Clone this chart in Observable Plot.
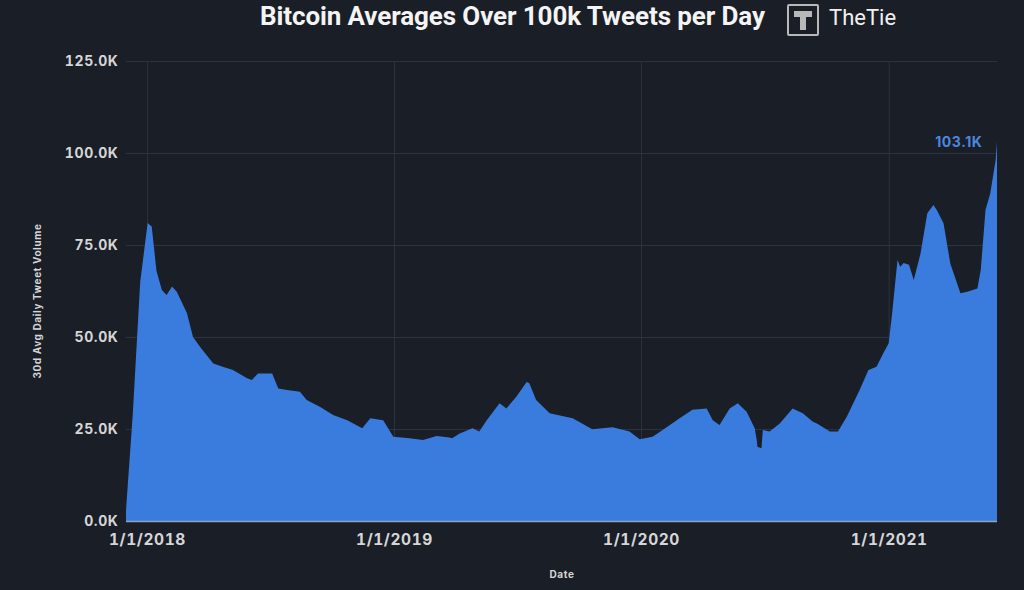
<!DOCTYPE html>
<html>
<head>
<meta charset="utf-8">
<script src="https://cdn.jsdelivr.net/npm/d3@7"></script>
<script src="https://cdn.jsdelivr.net/npm/@observablehq/plot@0.6"></script>
<style>
  html, body { margin: 0; padding: 0; background: #1a1e27; }
  #wrap { position: relative; width: 1024px; height: 590px; overflow: hidden; background: #1a1e27; }
  #head { position: relative; height: 40px; }
  #title { position: absolute; left: 260px; top: 1px; font-family: Roboto, sans-serif; font-weight: 700; font-size: 26px; color: #f4f4f4; white-space: nowrap; letter-spacing: -0.1px; }
  #logo { position: absolute; left: 787px; top: 4px; width: 28px; height: 28px; border: 2px solid #b8b8b8; border-radius: 2px; }
  #logo .bar { position: absolute; left: 5px; top: 5px; width: 18px; height: 6px; background: #b8b8b8; }
  #logo .stem { position: absolute; left: 11px; top: 11px; width: 6px; height: 13px; background: #b8b8b8; }
  #brand { position: absolute; left: 829px; top: 5px; font-family: Roboto, sans-serif; font-weight: 400; font-size: 22px; color: #f0f0f0; }
  #chart svg text { letter-spacing: 0.6px; }
</style>
</head>
<body>
<div id="wrap">
  <div id="head">
    <div id="title">Bitcoin Averages Over 100k Tweets per Day</div>
    <div id="logo"><div class="bar"></div><div class="stem"></div></div>
    <div id="brand">TheTie</div>
  </div>
  <div id="chart"></div>
</div>
<script>
// 30-day average daily tweet volume (thousands)
const dates = [
  "2017-12-01","2017-12-11","2017-12-22","2018-01-02","2018-01-08","2018-01-15","2018-01-23","2018-01-30",
  "2018-02-07","2018-02-14","2018-03-01","2018-03-10","2018-03-20","2018-04-09","2018-04-23","2018-05-08",
  "2018-05-29","2018-06-05","2018-06-14","2018-07-05","2018-07-14","2018-07-27","2018-08-15","2018-08-25",
  "2018-09-14","2018-10-03","2018-10-24","2018-11-15","2018-11-27","2018-12-16","2018-12-31","2019-01-24",
  "2019-02-13","2019-03-05","2019-03-24","2019-03-28","2019-04-08","2019-04-27","2019-05-07","2019-05-18",
  "2019-06-06","2019-06-16","2019-07-01","2019-07-16","2019-07-20","2019-07-30","2019-08-19","2019-09-22",
  "2019-10-21","2019-11-20","2019-12-15","2019-12-30","2020-01-18","2020-02-02","2020-02-27","2020-03-17",
  "2020-04-07","2020-04-16","2020-04-26","2020-05-11","2020-05-23","2020-06-05","2020-06-17","2020-06-20",
  "2020-06-21","2020-06-27","2020-06-29","2020-07-09","2020-07-24","2020-08-12","2020-08-27","2020-09-11",
  "2020-09-17","2020-10-06","2020-10-18","2020-10-31","2020-11-19","2020-12-02","2020-12-14","2020-12-24",
  "2021-01-01","2021-01-06","2021-01-14","2021-01-18","2021-01-23","2021-01-31","2021-02-07","2021-02-17",
  "2021-02-27","2021-03-08","2021-03-13","2021-03-23","2021-04-02","2021-04-17","2021-04-27","2021-05-12",
  "2021-05-17","2021-05-24","2021-05-31","2021-06-08","2021-06-10"
];
const values = [
  3, 29, 65, 81, 80, 68, 62.8, 61.4,
  63.7, 62.3, 56.5, 50, 47.4, 42.8, 41.9, 41,
  38.8, 38.3, 40.1, 40.1, 36, 35.6, 35.1, 32.9,
  31, 28.8, 27.4, 25.2, 27.9, 27.4, 22.9, 22.5,
  22, 23.1, 22.7, 22.5, 23.8, 25.2, 24.3, 27.4,
  32, 30.6, 33.8, 37.8, 37.4, 32.9, 29.3, 27.9,
  24.9, 25.5, 24.3, 22.2, 22.9, 24.7, 27.9, 30.2,
  30.6, 27.4, 26.1, 30.6, 32, 29.7, 25.2, 22,
  20.2, 19.8, 24.7, 24.3, 26.5, 30.6, 29.3, 27,
  26.5, 24.3, 24.3, 28.3, 35.6, 41, 41.9, 45.6,
  48.3, 56.4, 70.9, 69.1, 70.1, 69.6, 65.5, 72.7,
  83.6, 85.9, 84.5, 80.9, 70, 61.9, 62.3, 63.2,
  68.2, 84.5, 89, 98.1, 103.1
];
const yTicks = [0, 25, 50, 75, 100, 125];
const xTickLabels = ["2018-01-01", "2019-01-01", "2020-01-01", "2021-01-01"];
const peakLabel = "103.1K";
const yLabel = "30d Avg Daily Tweet Volume";
const xLabel = "Date";

const data = dates.map((d, i) => ({date: new Date(d), value: values[i]}));
const xTicks = xTickLabels.map(d => new Date(d));
const last = data[data.length - 1];

const chart = Plot.plot({
  width: 1024,
  height: 550,
  marginLeft: 126,
  marginRight: 27,
  marginTop: 21,
  marginBottom: 69,
  style: {background: "transparent", color: "#d6d6d6", fontFamily: "Inter, sans-serif", fontWeight: "bold", overflow: "visible"},
  x: {type: "utc", domain: [new Date("2017-12-01"), new Date("2021-06-10")]},
  y: {domain: [0, 125]},
  marks: [
    Plot.gridY(yTicks, {stroke: "#2b333f", strokeOpacity: 1, strokeWidth: 1}),
    Plot.gridX(xTicks, {stroke: "#2b333f", strokeOpacity: 1, strokeWidth: 1}),
    Plot.areaY(data, {x: "date", y: "value", fill: "#3a7bde"}),
    Plot.ruleY([0], {stroke: "#8ea3bd", strokeWidth: 1.5}),
    Plot.axisY(yTicks, {tickSize: 0, tickPadding: 8, fontSize: 14, tickFormat: d => d.toFixed(1) + "K", label: null}),
    Plot.axisX(xTicks, {tickSize: 0, tickPadding: 12, fontSize: 15.5,
      tickFormat: d => `${d.getUTCMonth() + 1}/${d.getUTCDate()}/${d.getUTCFullYear()}`, label: null}),
    Plot.text([yLabel], {frameAnchor: "left", textAnchor: "middle", rotate: -90, dx: -89, dy: 9.5, fontSize: 10, fill: "#d6d6d6"}),
    Plot.text([xLabel], {frameAnchor: "bottom", dy: 56, fontSize: 10, fill: "#d6d6d6"}),
    Plot.text([last], {x: "date", y: "value", text: () => peakLabel, textAnchor: "end", dx: -15, dy: 0, fontSize: 14, fill: "#4a88e0"})
  ]
});
document.getElementById("chart").appendChild(chart);
</script>
</body>
</html>
